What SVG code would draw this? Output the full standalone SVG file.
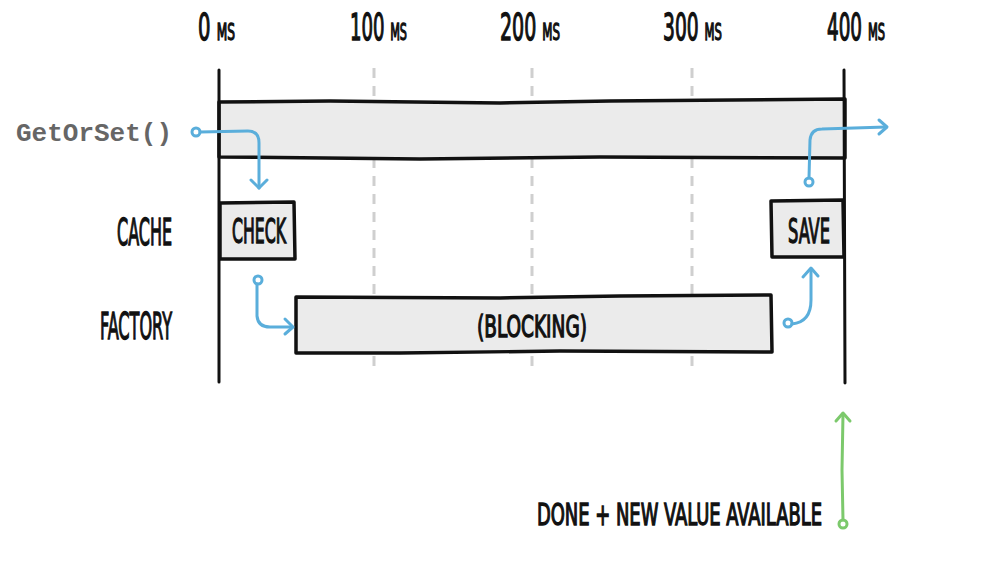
<svg xmlns="http://www.w3.org/2000/svg" width="1000" height="563" viewBox="0 0 1000 563">
<style>
.hand{font-family:"DejaVu Sans Condensed","DejaVu Sans",sans-serif;font-weight:normal;fill:#111;stroke:#111;stroke-width:1.3}
.box{fill:#ebebeb;stroke:#111;stroke-width:3.5;stroke-linejoin:round}
.axis{stroke:#111;stroke-width:3;fill:none;stroke-linecap:round}
.grid{stroke:#cfcfcf;stroke-width:3;stroke-dasharray:10 8;fill:none}
.blue{stroke:#5aaedb;stroke-width:3;fill:none;stroke-linecap:round;stroke-linejoin:round}
.green{stroke:#7cc96c;stroke-width:3;fill:none;stroke-linecap:round;stroke-linejoin:round}
.code{font-family:"Liberation Mono","DejaVu Sans Mono",monospace;font-weight:bold;fill:#666}
</style>
<rect width="1000" height="563" fill="#fff"/>
<g id="axis-labels">
<text class="hand" transform="translate(198,40) scale(0.5,1)" font-size="37" textLength="74" lengthAdjust="spacingAndGlyphs">0 <tspan font-size="23">MS</tspan></text>
<text class="hand" transform="translate(350,40) scale(0.5,1)" font-size="37" textLength="114" lengthAdjust="spacingAndGlyphs">100 <tspan font-size="23">MS</tspan></text>
<text class="hand" transform="translate(500,40) scale(0.5,1)" font-size="37" textLength="120" lengthAdjust="spacingAndGlyphs">200 <tspan font-size="23">MS</tspan></text>
<text class="hand" transform="translate(663,40) scale(0.5,1)" font-size="37" textLength="118" lengthAdjust="spacingAndGlyphs">300 <tspan font-size="23">MS</tspan></text>
<text class="hand" transform="translate(827,40) scale(0.5,1)" font-size="37" textLength="116" lengthAdjust="spacingAndGlyphs">400 <tspan font-size="23">MS</tspan></text>
</g>
<g id="grid">
<line class="grid" x1="374" y1="68" x2="374" y2="372"/>
<line class="grid" x1="532" y1="68" x2="532" y2="372"/>
<line class="grid" x1="692" y1="68" x2="692" y2="372"/>
</g>
<g id="getorset">
<path class="box" d="M219,102 L330,101 L500,103 L610,101 L845,99 L845,158 L600,157 L420,159 L219,157 Z"/>
<text class="code" x="16" y="141" font-size="26">GetOrSet()</text>
</g>
<g id="timeline-bounds">
<line class="axis" x1="219" y1="70" x2="219" y2="382"/>
<line class="axis" x1="844" y1="70" x2="845" y2="383"/>
</g>
<g id="row-labels">
<text class="hand" transform="translate(117,245) scale(0.5,1)" font-size="37" textLength="110" lengthAdjust="spacingAndGlyphs">CACHE</text>
<text class="hand" transform="translate(100,339) scale(0.5,1)" font-size="37" textLength="144" lengthAdjust="spacingAndGlyphs">FACTORY</text>
</g>
<g id="check">
<path class="box" d="M220,203 L294,202 L295,259 L220,259 Z"/>
<text class="hand" transform="translate(232,243) scale(0.5,1)" font-size="34" textLength="108" lengthAdjust="spacingAndGlyphs">CHECK</text>
</g>
<g id="blocking">
<path class="box" d="M296,297 L500,298 L620,296 L771,295 L772,352 L560,351 L400,353 L296,353 Z"/>
<text class="hand" transform="translate(477,337) scale(0.5,1)" font-size="30" textLength="220" lengthAdjust="spacingAndGlyphs">(BLOCKING)</text>
</g>
<g id="save">
<path class="box" d="M771,201 L843,200 L844,257 L772,257 Z"/>
<text class="hand" transform="translate(788,243) scale(0.5,1)" font-size="34" textLength="84" lengthAdjust="spacingAndGlyphs">SAVE</text>
</g>
<g id="done-label">
<text class="hand" transform="translate(537,525) scale(0.5,1)" font-size="30" textLength="570" lengthAdjust="spacingAndGlyphs">DONE + NEW VALUE AVAILABLE</text>
</g>
<g id="connectors">
<circle class="blue" cx="196" cy="132" r="4"/>
<path class="blue" d="M200,132 L248,131 Q259,131 259,143 L259,188"/>
<path class="blue" d="M251,180 L259,188 L267,180"/>
<circle class="blue" cx="258" cy="280" r="4"/>
<path class="blue" d="M257,284 L257,316 Q258,327 270,327 L292,327"/>
<path class="blue" d="M285,319 L293,327 L285,334"/>
<circle class="blue" cx="788" cy="323" r="4"/>
<path class="blue" d="M792,324 Q811,322 811,300 L811,270"/>
<path class="blue" d="M803,277 L811,268 L818,276"/>
<circle class="blue" cx="809" cy="182" r="4"/>
<path class="blue" d="M809,178 L810,140 Q811,129 822,129 L886,127"/>
<path class="blue" d="M879,120 L887,127 L879,134"/>
<circle class="green" cx="843" cy="524" r="4"/>
<path class="green" d="M843,520 L842,470 L843,414"/>
<path class="green" d="M836,421 L843,413 L850,421"/>
</g>
</svg>
